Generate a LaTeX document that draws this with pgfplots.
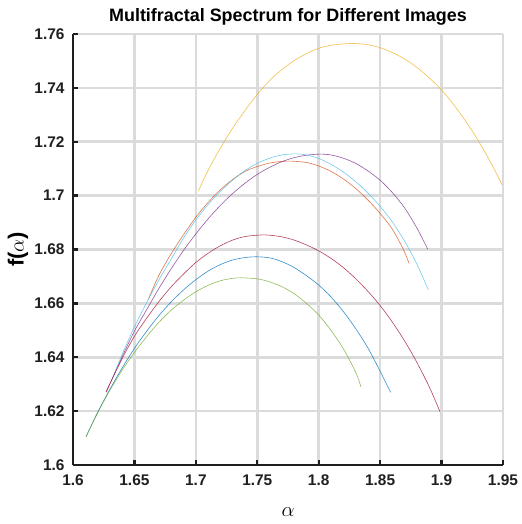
\documentclass[border=0pt]{standalone}
\usepackage{pgfplots}
\pgfplotsset{compat=1.18}
\usepackage{fontspec}
\setmainfont{Liberation Sans}
\definecolor{mblue}{rgb}{0,0.447,0.741}
\definecolor{morange}{rgb}{0.85,0.325,0.098}
\definecolor{myellow}{rgb}{0.929,0.694,0.125}
\definecolor{mpurple}{rgb}{0.494,0.184,0.556}
\definecolor{mgreen}{rgb}{0.466,0.674,0.188}
\definecolor{mcyan}{rgb}{0.301,0.745,0.933}
\definecolor{mred}{rgb}{0.635,0.078,0.184}
\begin{document}
\begin{tikzpicture}
\begin{axis}[
  scale only axis, width=430bp, height=431bp,
  xmin=1.6, xmax=1.95, ymin=1.6, ymax=1.76,
  xtick={1.6,1.65,1.7,1.75,1.8,1.85,1.9,1.95},
  ytick={1.6,1.62,1.64,1.66,1.68,1.7,1.72,1.74,1.76},
  xticklabels={1.6,1.65,1.7,1.75,1.8,1.85,1.9,1.95},
  yticklabels={1.6,1.62,1.64,1.66,1.68,1.7,1.72,1.74,1.76},
  axis lines*=left,
  axis line style={line width=2.6bp, black!88},
  tick align=inside, major tick length=5bp,
  tick style={line width=2.4bp, black!88},
  grid=major,
  major grid style={line width=2.5bp, black!14},
  tick label style={font=\fontsize{15.5}{15.5}\bfseries\selectfont, black!88},
  xticklabel style={yshift=-6bp},
  yticklabel style={xshift=-5bp},
  title={\fontsize{18}{18}\bfseries\selectfont Multifractal Spectrum for Different Images},
  title style={at={(axis description cs:0.5,1.0162)}, anchor=base, inner sep=0pt},
  xlabel={\fontsize{21}{21}\selectfont $\alpha$},
  xlabel style={at={(axis description cs:0.5,-0.109)}, anchor=center, inner sep=0pt},
  ylabel={\fontsize{22}{22}\bfseries\selectfont f($\alpha$)},
  ylabel style={at={(axis description cs:-0.128,0.5)}, anchor=center, inner sep=0pt},
  every axis plot/.append style={line width=0.6bp, smooth, opacity=0.8},
]
\coordinate (BL) at (rel axis cs:0,0);
\coordinate (TR) at (rel axis cs:1,1);
% 1 blue
\addplot[mblue] coordinates {
(1.6106,1.6105) (1.62,1.6195) (1.63,1.6281) (1.64,1.6360) (1.65,1.6433) (1.66,1.6497)
(1.67,1.6555) (1.68,1.6606) (1.69,1.6650) (1.70,1.6688) (1.71,1.6720) (1.72,1.6744)
(1.73,1.6761) (1.74,1.6770) (1.7492,1.6773) (1.76,1.6769) (1.77,1.6755) (1.78,1.6733)
(1.79,1.6703) (1.80,1.6668) (1.81,1.6624) (1.82,1.6570) (1.83,1.6507) (1.84,1.6435)
(1.85,1.6348) (1.8585,1.6270)};
% 2 orange
\addplot[morange] coordinates {
(1.6613,1.6615) (1.67,1.6705) (1.68,1.6785) (1.69,1.6855) (1.70,1.6920) (1.71,1.6975)
(1.72,1.7022) (1.73,1.7060) (1.74,1.7090) (1.75,1.7108) (1.76,1.7121) (1.77,1.7127)
(1.778,1.7128) (1.79,1.7123) (1.80,1.7110) (1.81,1.7090) (1.82,1.7062) (1.83,1.7027)
(1.84,1.6984) (1.85,1.6934) (1.86,1.6875) (1.8689,1.6800) (1.8735,1.6749)};
% 3 yellow
\addplot[myellow] coordinates {
(1.702,1.7017) (1.71,1.7094) (1.72,1.7177) (1.73,1.7251) (1.74,1.7316) (1.75,1.7376)
(1.76,1.7427) (1.77,1.7468) (1.78,1.7501) (1.79,1.7527) (1.80,1.7547) (1.81,1.7558)
(1.8268,1.7565) (1.84,1.7560) (1.85,1.7549) (1.86,1.7531) (1.87,1.7507) (1.88,1.7476)
(1.89,1.7437) (1.90,1.7392) (1.91,1.7337) (1.92,1.7274) (1.93,1.7203) (1.94,1.7123)
(1.9494,1.7039)};
% 4 purple
\addplot[mpurple] coordinates {
(1.627,1.627) (1.64,1.6402) (1.65,1.6497) (1.66,1.6577) (1.67,1.6656) (1.68,1.6729)
(1.69,1.6797) (1.70,1.6858) (1.71,1.6914) (1.72,1.6964) (1.73,1.7008) (1.74,1.7046)
(1.75,1.7079) (1.76,1.7105) (1.77,1.7126) (1.78,1.7141) (1.79,1.7150) (1.801,1.7154)
(1.81,1.7151) (1.82,1.7139) (1.83,1.7120) (1.84,1.7092) (1.85,1.7057) (1.86,1.7011)
(1.87,1.6954) (1.88,1.6879) (1.8887,1.6801)};
% 5 green
\addplot[mgreen] coordinates {
(1.6106,1.6105) (1.62,1.6193) (1.63,1.6277) (1.64,1.6352) (1.65,1.6418) (1.66,1.6477)
(1.67,1.6530) (1.68,1.6575) (1.69,1.6612) (1.70,1.6643) (1.71,1.6667) (1.72,1.6684)
(1.73,1.6693) (1.7373,1.6695) (1.75,1.6691) (1.76,1.6680) (1.77,1.6662) (1.78,1.6636)
(1.79,1.6600) (1.80,1.6557) (1.81,1.6500) (1.82,1.6432) (1.83,1.6345) (1.8344,1.6290)};
% 6 light blue
\addplot[mcyan] coordinates {
(1.632,1.632) (1.64,1.6411) (1.65,1.6513) (1.66,1.6603) (1.67,1.6688) (1.68,1.6765)
(1.69,1.6843) (1.70,1.6910) (1.71,1.6967) (1.72,1.7016) (1.73,1.7058) (1.74,1.7093)
(1.75,1.7120) (1.76,1.7139) (1.77,1.7151) (1.7807,1.7155) (1.79,1.7151) (1.80,1.7138)
(1.81,1.7116) (1.82,1.7088) (1.83,1.7052) (1.84,1.7010) (1.85,1.6960) (1.86,1.6902)
(1.87,1.6830) (1.88,1.6745) (1.8892,1.6650)};
% 7 red
\addplot[mred] coordinates {
(1.6269,1.6272) (1.64,1.6395) (1.65,1.6478) (1.66,1.6545) (1.67,1.6607) (1.68,1.6662)
(1.69,1.6709) (1.70,1.6752) (1.71,1.6786) (1.72,1.6814) (1.73,1.6835) (1.74,1.6848)
(1.753,1.6854) (1.76,1.6853) (1.77,1.6847) (1.78,1.6835) (1.79,1.6817) (1.80,1.6795)
(1.81,1.6767) (1.82,1.6733) (1.83,1.6692) (1.84,1.6645) (1.85,1.6592) (1.86,1.6530)
(1.87,1.6460) (1.88,1.6380) (1.89,1.6290) (1.8987,1.6198)};
\end{axis}
\pgfresetboundingbox
\path[use as bounding box] ([shift={(-73bp,-59bp)}]BL) rectangle ([shift={(19bp,34bp)}]TR);
\end{tikzpicture}
\end{document}
